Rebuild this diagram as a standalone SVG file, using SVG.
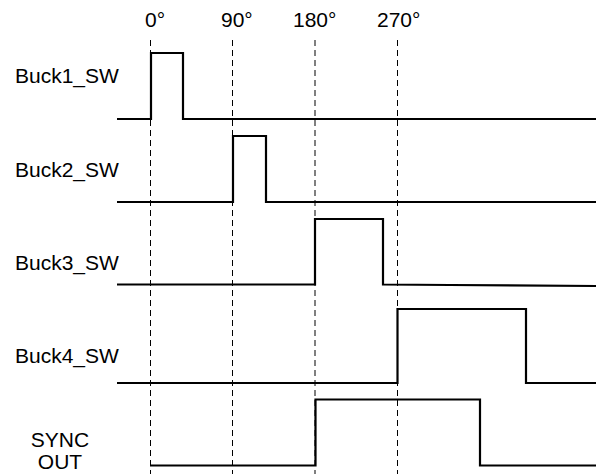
<svg xmlns="http://www.w3.org/2000/svg" width="598" height="474" viewBox="0 0 598 474">
<style>
.lbl{font-family:"Liberation Sans",Arial,sans-serif;font-size:21px;fill:#000}
.sig{fill:none;stroke:#000;stroke-width:2.2;stroke-linejoin:miter}
.grid{stroke:#000;stroke-width:1;stroke-dasharray:6,4;fill:none}
</style>
<rect width="598" height="474" fill="#fff"/>
<g id="phase-grid">
<line class="grid" x1="150.5" y1="40" x2="150.5" y2="474"/>
<line class="grid" x1="232.5" y1="40" x2="232.5" y2="474"/>
<line class="grid" x1="315" y1="40" x2="315" y2="474"/>
<line class="grid" x1="397.5" y1="40" x2="397.5" y2="474"/>
</g>
<g id="phase-labels">
<text class="lbl" x="145" y="27">0°</text>
<text class="lbl" x="221" y="27">90°</text>
<text class="lbl" x="293" y="27">180°</text>
<text class="lbl" x="377" y="27">270°</text>
</g>
<g id="buck1">
<text class="lbl" x="15" y="83">Buck1_SW</text>
<polyline class="sig" points="117,119 151,119 151,53 183,53 183,119 596,119"/>
</g>
<g id="buck2">
<text class="lbl" x="15" y="177">Buck2_SW</text>
<polyline class="sig" points="117,202 233,202 233,136 266,136 266,202 596,202"/>
</g>
<g id="buck3">
<text class="lbl" x="15" y="270">Buck3_SW</text>
<polyline class="sig" points="117,284.5 315,284.5 315,219 383,219 383,284.5 450,285 596,286"/>
</g>
<g id="buck4">
<text class="lbl" x="15" y="363">Buck4_SW</text>
<polyline class="sig" points="117,383 397.5,383 397.5,309 526,309 526,383 596,383"/>
</g>
<g id="sync-out">
<text class="lbl" x="60" y="447" text-anchor="middle">SYNC</text>
<text class="lbl" x="60" y="469" text-anchor="middle">OUT</text>
<polyline class="sig" points="150,465.5 315.5,465.5 315.5,399.5 480,399.5 480,465.5 596,465.5"/>
</g>
</svg>
